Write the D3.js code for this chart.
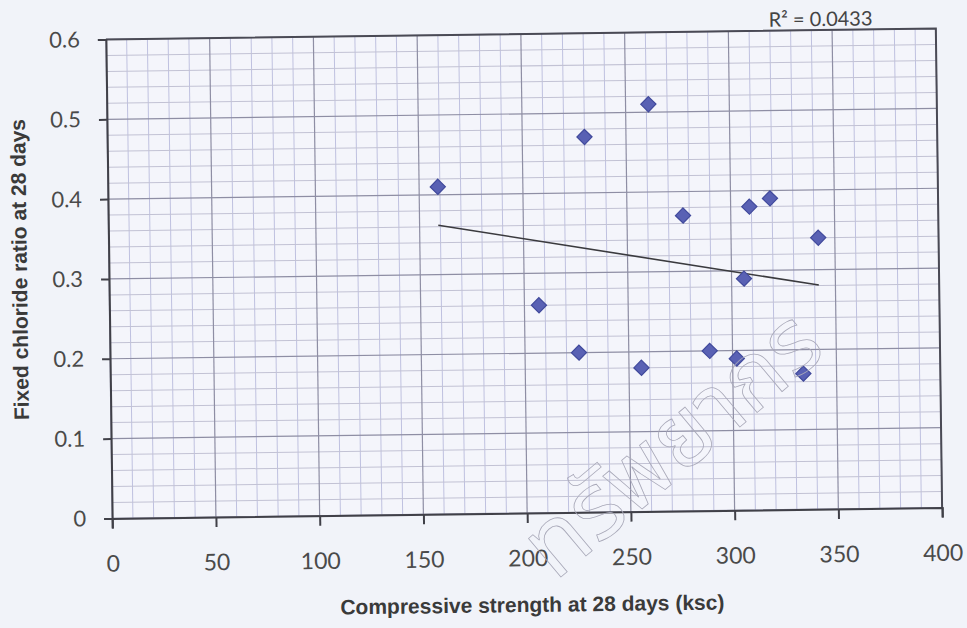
<!DOCTYPE html>
<html><head><meta charset="utf-8">
<script src="https://cdn.jsdelivr.net/npm/d3@7/dist/d3.min.js"></script>
<style>
body{margin:0;background:#f1f3f9;}
svg{display:block}
</style>
</head><body>
<svg id="chart" width="967" height="628"></svg>
<script>
// ---- data ----
const strength = [159, 207, 226, 230, 256, 261, 277, 289, 302, 306, 309, 319, 334, 342];
const chlorideRatio = [0.41, 0.26, 0.20, 0.47, 0.18, 0.51, 0.37, 0.20, 0.19, 0.29, 0.38, 0.39, 0.17, 0.34];
const xTickValues = [0, 50, 100, 150, 200, 250, 300, 350, 400];
const yTickValues = [0, 0.1, 0.2, 0.3, 0.4, 0.5, 0.6];
const xMinorStep = 10;
const yMinorStep = 0.02;
const rSquaredLabel = "R² = 0.0433";
const xTitle = "Compressive strength at 28 days (ksc)";
const yTitle = "Fixed chloride ratio at 28 days";
const watermark = "ทรัพยากร";

// ---- layout ----
const W = 967, H = 628;
const m = {left: 109, right: 939, top: 34, bottom: 513};
const svg = d3.select("#chart");
svg.append("rect").attr("width", W).attr("height", H).attr("fill", "#f1f3f9");
const g = svg.append("g").attr("transform", "rotate(-0.75 524 273.5)");

const x = d3.scaleLinear().domain([0, 400]).range([m.left, m.right]);
const y = d3.scaleLinear().domain([0, 0.6]).range([m.bottom, m.top]);

g.append("rect").attr("x", m.left).attr("y", m.top)
  .attr("width", m.right - m.left).attr("height", m.bottom - m.top)
  .attr("fill", "#f4f5fb");

// minor grid
const xMinor = d3.range(0, 400 + 1e-9, xMinorStep).filter(v => v % 50 !== 0);
const yMinor = d3.range(0, 0.6 + 1e-9, yMinorStep).filter(v => Math.abs(v * 10 - Math.round(v * 10)) > 1e-6);
g.append("g").selectAll("line").data(xMinor).join("line")
  .attr("x1", d => x(d)).attr("x2", d => x(d)).attr("y1", m.top).attr("y2", m.bottom)
  .attr("stroke", "#bfc1e0").attr("stroke-width", 1);
g.append("g").selectAll("line").data(yMinor).join("line")
  .attr("y1", d => y(d)).attr("y2", d => y(d)).attr("x1", m.left).attr("x2", m.right)
  .attr("stroke", "#c2c2d4").attr("stroke-width", 1);
// major grid
g.append("g").selectAll("line").data(xTickValues).join("line")
  .attr("x1", d => x(d)).attr("x2", d => x(d)).attr("y1", m.top).attr("y2", m.bottom)
  .attr("stroke", "#8e8ea4").attr("stroke-width", 1.2);
g.append("g").selectAll("line").data(yTickValues).join("line")
  .attr("y1", d => y(d)).attr("y2", d => y(d)).attr("x1", m.left).attr("x2", m.right)
  .attr("stroke", "#8e8ea4").attr("stroke-width", 1.2);

// frame (top/right)
g.append("path")
  .attr("d", `M${m.left},${m.top}H${m.right}V${m.bottom}`)
  .attr("fill", "none").attr("stroke", "#4a4a55").attr("stroke-width", 2);

// axes
const xAxis = d3.axisBottom(x).tickValues(xTickValues).tickSize(10).tickPadding(27)
  .tickFormat(d3.format("d"));
const yAxis = d3.axisLeft(y).tickValues(yTickValues).tickSize(8).tickPadding(18)
  .tickFormat(d => d === 0 ? "0" : d3.format(".1f")(d));

const gx = g.append("g").attr("transform", `translate(0,${m.bottom})`).call(xAxis);
const gy = g.append("g").attr("transform", `translate(${m.left},0)`).call(yAxis);
[gx, gy].forEach(a => {
  a.select(".domain").attr("stroke", "#404048").attr("stroke-width", 2);
  a.selectAll(".tick line").attr("stroke", "#404048").attr("stroke-width", 2);
  a.selectAll("text").attr("fill", "#4a4a4a").attr("font-family", "Lato, 'Open Sans', sans-serif");
});
gx.selectAll("text").attr("font-size", 23);
gy.selectAll("text").attr("font-size", 22);

// trendline (least squares)
const n = strength.length;
const mx = d3.mean(strength), my = d3.mean(chlorideRatio);
let sxy = 0, sxx = 0;
for (let i = 0; i < n; i++) { sxy += (strength[i] - mx) * (chlorideRatio[i] - my); sxx += (strength[i] - mx) ** 2; }
const slope = sxy / sxx, intercept = my - slope * mx;
const ext = d3.extent(strength);
g.append("line")
  .attr("x1", x(ext[0])).attr("y1", y(intercept + slope * ext[0]))
  .attr("x2", x(ext[1])).attr("y2", y(intercept + slope * ext[1]))
  .attr("stroke", "#3a3a3e").attr("stroke-width", 1.6);

// points
const diamond = d3.symbol().type(d3.symbolSquare).size(115);
g.append("g").selectAll("path").data(strength).join("path")
  .attr("d", diamond)
  .attr("transform", (d, i) => `translate(${x(d)},${y(chlorideRatio[i])}) rotate(45)`)
  .attr("fill", "#5961b4").attr("stroke", "#414a9c").attr("stroke-width", 1.2);

// R^2 label
g.append("text").attr("x", 772).attr("y", 30)
  .attr("font-family", "Lato, 'Open Sans', sans-serif").attr("font-size", 20)
  .attr("fill", "#444").text(rSquaredLabel);

// axis titles
g.append("text").attr("x", 528).attr("y", 612).attr("text-anchor", "middle")
  .attr("font-family", "'Liberation Sans', Arial, sans-serif").attr("font-weight", "bold")
  .attr("font-size", 21).attr("fill", "#3a3a3a").text(xTitle);
g.append("text").attr("transform", "translate(27,263) rotate(-90)").attr("text-anchor", "middle")
  .attr("font-family", "'Liberation Sans', Arial, sans-serif").attr("font-weight", "bold")
  .attr("font-size", 21).attr("fill", "#3a3a3a").text(yTitle);

// faint outlined watermark from the scan
svg.append("text").attr("transform", "translate(555,582) rotate(-40)")
  .attr("font-size", 92).attr("font-family", "'Noto Sans Thai', 'Noto Sans', sans-serif")
  .attr("fill", "none").attr("stroke", "#a8a8b8").attr("stroke-width", 0.8)
  .text(watermark);
</script>
</body></html>
